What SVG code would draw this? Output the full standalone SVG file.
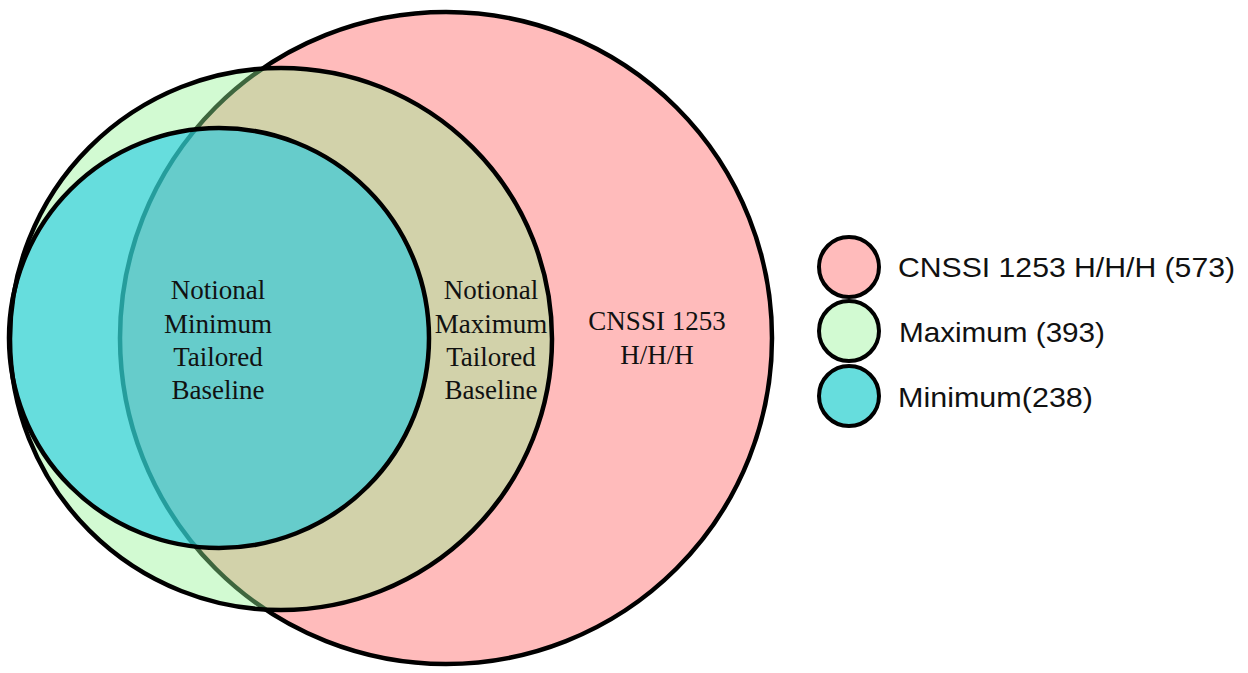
<svg xmlns="http://www.w3.org/2000/svg" width="1248" height="673" viewBox="0 0 1248 673">
<style>
.serif{font-family:"Liberation Serif","Times New Roman",serif;font-size:27px;fill:#111;text-anchor:middle}
.sans{font-family:"Liberation Sans",Arial,sans-serif;font-size:28.5px;fill:#111}
.stroke{fill:none;stroke:#000;stroke-width:4.5}
.lg{stroke:#000;stroke-width:4}
</style>
<rect width="1248" height="673" fill="#fff"/>
<g id="cnssi">
<circle cx="446" cy="338" r="326" fill="#FFBBBB" stroke="#000" stroke-width="4.5"/>
</g>
<g id="maximum">
<circle cx="281" cy="339" r="271" fill="rgb(148,243,148)" fill-opacity="0.42"/>
</g>
<g id="minimum">
<circle cx="219" cy="338" r="210" fill="rgb(20,199,229)" fill-opacity="0.57"/>
</g>
<g id="outlines">
<circle class="stroke" cx="281" cy="339" r="271"/>
<circle class="stroke" cx="219" cy="338" r="210"/>
</g>
<g id="labels">
<text class="serif" x="218" y="299">Notional</text>
<text class="serif" x="218" y="333">Minimum</text>
<text class="serif" x="218" y="366">Tailored</text>
<text class="serif" x="218" y="399">Baseline</text>
<text class="serif" x="491" y="299">Notional</text>
<text class="serif" x="491" y="333">Maximum</text>
<text class="serif" x="491" y="366">Tailored</text>
<text class="serif" x="491" y="399">Baseline</text>
<text class="serif" x="657" y="330">CNSSI 1253</text>
<text class="serif" x="657" y="364">H/H/H</text>
</g>
<g id="legend">
<circle class="lg" cx="849" cy="267" r="30" fill="#FFBBBB"/>
<circle class="lg" cx="849" cy="331" r="30" fill="#D2FAD2"/>
<circle class="lg" cx="849" cy="396" r="30" fill="#66DDDD"/>
<text class="sans" x="898" y="277" textLength="337" lengthAdjust="spacingAndGlyphs">CNSSI 1253 H/H/H (573)</text>
<text class="sans" x="899" y="342" textLength="206" lengthAdjust="spacingAndGlyphs">Maximum (393)</text>
<text class="sans" x="898" y="407" textLength="195" lengthAdjust="spacingAndGlyphs">Minimum(238)</text>
</g>
</svg>
